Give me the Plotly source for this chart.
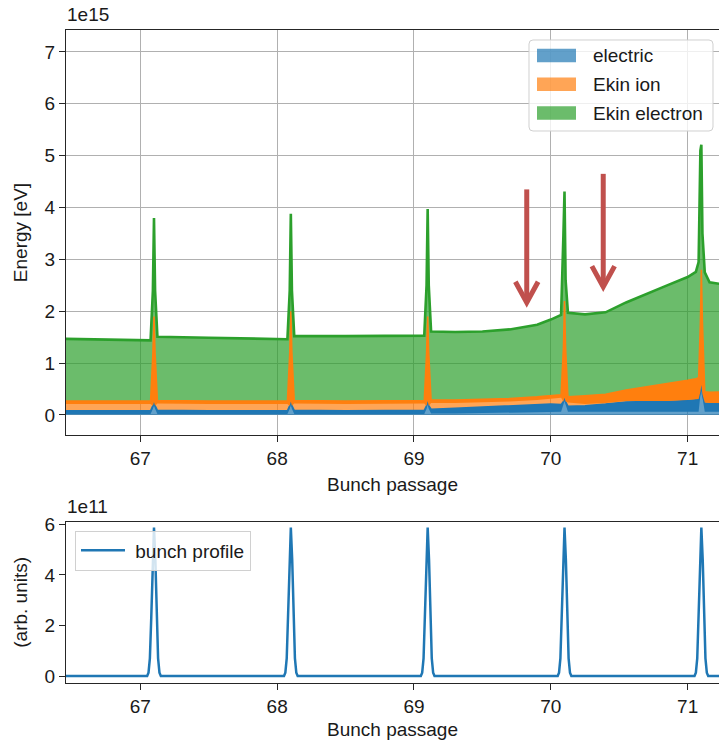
import plotly.graph_objects as go

# ---------------- data (top panel, energies in units of 1e15 eV) ----------------
passage = [66.40, 67.00, 67.075, 67.092, 67.10, 67.108, 67.125, 67.50, 68.00,
           68.075, 68.092, 68.10, 68.108, 68.125, 68.50, 69.00,
           69.075, 69.092, 69.10, 69.108, 69.125, 69.30, 69.50, 69.70, 69.90, 70.00,
           70.075, 70.092, 70.10, 70.108, 70.125, 70.25, 70.40, 70.55, 70.70, 70.85,
           71.00, 71.06, 71.08, 71.093, 71.10, 71.108, 71.125, 71.16, 71.30]

electric_top = [0.08, 0.08, 0.08, 0.18, 0.25, 0.18, 0.09, 0.08, 0.08,
                0.08, 0.18, 0.26, 0.18, 0.09, 0.08, 0.08,
                0.09, 0.18, 0.27, 0.18, 0.11, 0.13, 0.15, 0.17, 0.20, 0.21,
                0.20, 0.26, 0.33, 0.26, 0.17, 0.18, 0.21, 0.25, 0.26, 0.26,
                0.28, 0.29, 0.30, 0.45, 0.58, 0.40, 0.23, 0.22, 0.22]

electric_band_low = [0.02, 0.02, 0.02, 0.12, 0.19, 0.12, 0.02, 0.02, 0.02,
                     0.02, 0.12, 0.20, 0.12, 0.02, 0.02, 0.02,
                     0.02, 0.12, 0.21, 0.12, 0.03, 0.03, 0.04, 0.05, 0.06, 0.06,
                     0.06, 0.20, 0.27, 0.20, 0.06, 0.06, 0.06, 0.06, 0.06, 0.06,
                     0.06, 0.06, 0.06, 0.39, 0.52, 0.34, 0.06, 0.06, 0.06]

ion_top = [0.27, 0.27, 0.27, 1.20, 1.90, 1.20, 0.28, 0.27, 0.27,
           0.27, 1.20, 2.00, 1.20, 0.28, 0.27, 0.27,
           0.28, 1.20, 1.90, 1.20, 0.29, 0.29, 0.30, 0.32, 0.35, 0.37,
           0.39, 1.30, 2.20, 1.30, 0.35, 0.37, 0.40, 0.48, 0.54, 0.60,
           0.67, 0.70, 0.72, 1.80, 2.80, 1.80, 0.45, 0.44, 0.45]

ion_band_low = [0.21, 0.21, 0.21, 0.18, 0.25, 0.18, 0.22, 0.21, 0.21,
                0.21, 0.18, 0.26, 0.18, 0.22, 0.21, 0.21,
                0.22, 0.18, 0.27, 0.18, 0.23, 0.23, 0.24, 0.26, 0.29, 0.31,
                0.33, 0.26, 0.33, 0.26, 0.24, 0.21, 0.23, 0.27, 0.27, 0.27,
                0.29, 0.30, 0.31, 0.45, 0.58, 0.40, 0.24, 0.23, 0.23]

total_top = [1.47, 1.45, 1.44, 2.40, 3.80, 2.40, 1.51, 1.49, 1.46,
             1.46, 2.40, 3.88, 2.40, 1.52, 1.52, 1.52,
             1.53, 2.50, 3.97, 2.50, 1.61, 1.60, 1.61, 1.65, 1.74, 1.84,
             1.93, 3.47, 4.31, 2.60, 1.97, 1.94, 1.98, 2.17, 2.34, 2.50,
             2.66, 2.76, 2.95, 5.10, 5.21, 3.50, 2.75, 2.56, 2.50]

# ---------------- data (bottom panel, bunch profile in units of 1e11) ----------------
bunch_centers = [67.1, 68.1, 69.1, 70.1, 71.1]
profile_offsets = [-0.05, -0.04, -0.03, -0.02, -0.01, 0.0, 0.01, 0.02, 0.03, 0.04, 0.05]
profile_shape = [0.0, 0.13, 0.7, 2.3, 4.6, 5.87, 4.6, 2.3, 0.7, 0.13, 0.0]
profile_edges = [66.40, 71.30]

x_ticks = [67, 68, 69, 70, 71]
energy_ticks = [0, 1, 2, 3, 4, 5, 6, 7]
profile_ticks = [0, 2, 4, 6]
energy_scale = 1e15
profile_scale = 1e11

legend_labels = ["electric", "Ekin ion", "Ekin electron"]

arrow_x = [69.824, 70.383]
arrow_top = [4.35, 4.65]
arrow_tip = [2.17, 2.47]

# ---------------- style ----------------
W, H = 719, 741
BLUE, ORANGE, GREEN = "#1f77b4", "#ff7f0e", "#2ca02c"
FONT = "Liberation Sans, Arial, sans-serif"
FS = 19
TXT = "#1a1a1a"
SPINE = "#262626"


def rgba(h, a):
    h = h.lstrip("#")
    return "rgba(%d,%d,%d,%g)" % (int(h[0:2], 16), int(h[2:4], 16), int(h[4:6], 16), a)


def px(xp):
    return xp / W


def py(yp):
    return 1 - yp / H


def E(arr):
    return [v * energy_scale for v in arr]


def rounded_box(x0, y0, x1, y1, r):
    # pixel coords (y downwards) -> paper path with rounded corners
    pts = []
    pts.append("M %f,%f" % (px(x0 + r), py(y0)))
    pts.append("L %f,%f" % (px(x1 - r), py(y0)))
    pts.append("Q %f,%f %f,%f" % (px(x1), py(y0), px(x1), py(y0 + r)))
    pts.append("L %f,%f" % (px(x1), py(y1 - r)))
    pts.append("Q %f,%f %f,%f" % (px(x1), py(y1), px(x1 - r), py(y1)))
    pts.append("L %f,%f" % (px(x0 + r), py(y1)))
    pts.append("Q %f,%f %f,%f" % (px(x0), py(y1), px(x0), py(y1 - r)))
    pts.append("L %f,%f" % (px(x0), py(y0 + r)))
    pts.append("Q %f,%f %f,%f Z" % (px(x0), py(y0), px(x0 + r), py(y0)))
    return " ".join(pts)


fig = go.Figure()
common = dict(xaxis="x", yaxis="y", hoverinfo="skip", showlegend=False)
# electric: light fill to zero, then dense (oscillating) band drawn solid
fig.add_trace(go.Scatter(x=passage, y=E(electric_top), fill="tozeroy",
                         fillcolor=rgba(BLUE, 0.7), mode="lines", line=dict(width=0, color=BLUE), **common))
fig.add_trace(go.Scatter(x=passage, y=E(electric_band_low), mode="lines",
                         line=dict(width=0, color=BLUE), **common))
fig.add_trace(go.Scatter(x=passage, y=E(electric_top), fill="tonexty", fillcolor=BLUE,
                         mode="lines", line=dict(color=BLUE, width=1.5), name="electric", **common))
# ion
fig.add_trace(go.Scatter(x=passage, y=E(ion_top), fill="tonexty", fillcolor=rgba(ORANGE, 0.7),
                         mode="lines", line=dict(width=0, color=ORANGE), **common))
fig.add_trace(go.Scatter(x=passage, y=E(ion_band_low), mode="lines",
                         line=dict(width=0, color=ORANGE), **common))
fig.add_trace(go.Scatter(x=passage, y=E(ion_top), fill="tonexty", fillcolor=ORANGE,
                         mode="lines", line=dict(color=ORANGE, width=1.5), name="Ekin ion", **common))
# electron (total)
fig.add_trace(go.Scatter(x=passage, y=E(total_top), fill="tonexty",
                         fillcolor=rgba(GREEN, 0.7), mode="lines",
                         line=dict(color=GREEN, width=2.6), name="Ekin electron", **common))

prof_x = [profile_edges[0]] + [c + o for c in bunch_centers for o in profile_offsets] + [profile_edges[1]]
prof_y = [0.0] + [v for c in bunch_centers for v in profile_shape] + [0.0]
fig.add_trace(go.Scatter(x=prof_x, y=[v * profile_scale for v in prof_y], xaxis="x2", yaxis="y2",
                         mode="lines", line=dict(color=BLUE, width=2.5),
                         name="\u00a0bunch profile", showlegend=True, hoverinfo="skip"))

axis_common = dict(showline=True, linecolor=SPINE, linewidth=1.3, ticks="outside", ticklen=6,
                   tickwidth=1.3, tickcolor=SPINE, tickfont=dict(size=FS, color=TXT, family=FONT),
                   zeroline=False)
xr = [66.457, 71.229]
fig.update_layout(
    width=W, height=H, template="none", margin=dict(l=0, r=0, t=0, b=0),
    paper_bgcolor="white", plot_bgcolor="white",
    font=dict(family=FONT, size=FS, color=TXT),
    xaxis=dict(domain=[px(66), 1], range=xr, tickvals=x_ticks, ticktext=[str(t) for t in x_ticks],
               showgrid=True, gridcolor="#b0b0b0", gridwidth=1.3, mirror=True, anchor="y",
               title=dict(text="Bunch passage", font=dict(size=FS), standoff=9), **axis_common),
    yaxis=dict(domain=[py(435), py(30)], range=[-0.386 * energy_scale, 7.424 * energy_scale],
               tickvals=[t * energy_scale for t in energy_ticks], ticktext=[str(t) for t in energy_ticks],
               showgrid=True, gridcolor="#b0b0b0", gridwidth=1.3, anchor="x",
               title=dict(text="Energy [eV]", font=dict(size=FS), standoff=11), **axis_common),
    xaxis2=dict(domain=[px(66), 1], range=xr, tickvals=x_ticks, ticktext=[str(t) for t in x_ticks],
                showgrid=False, mirror=True, anchor="y2",
                title=dict(text="Bunch passage", font=dict(size=FS), standoff=6), **axis_common),
    yaxis2=dict(domain=[py(683), py(521.7)], range=[-0.277 * profile_scale, 6.104 * profile_scale],
                tickvals=[t * profile_scale for t in profile_ticks], ticktext=[str(t) for t in profile_ticks],
                showgrid=False, anchor="x2",
                title=dict(text="(arb. units)", font=dict(size=FS), standoff=11), **axis_common),
    legend=dict(x=px(75), y=py(530.5), xanchor="left", yanchor="top",
                bgcolor="rgba(255,255,255,0.8)", bordercolor="#d0d0d0", borderwidth=1,
                font=dict(size=FS, family=FONT, color=TXT), itemwidth=44),
)

# offset texts
fig.add_annotation(text="1e15", xref="paper", yref="paper", x=px(65), y=py(27), xanchor="left",
                   yanchor="bottom", showarrow=False, font=dict(size=FS, color=TXT))
fig.add_annotation(text="1e11", xref="paper", yref="paper", x=px(65), y=py(518.5), xanchor="left",
                   yanchor="bottom", showarrow=False, font=dict(size=FS, color=TXT))

# arrows (annotations pointing at features)
ARROW = "#c0504d"
for ax_, top_, tip_ in zip(arrow_x, arrow_top, arrow_tip):
    fig.add_shape(type="path", xref="x", yref="y", layer="above",
                  path="M %f,%f L %f,%f" % (ax_, top_ * energy_scale, ax_, tip_ * energy_scale),
                  line=dict(color=ARROW, width=5))
    fig.add_shape(type="path", xref="x", yref="y", layer="above",
                  path="M %f,%f L %f,%f L %f,%f" % (ax_ - 0.083, (tip_ + 0.40) * energy_scale,
                                                    ax_, tip_ * energy_scale,
                                                    ax_ + 0.083, (tip_ + 0.40) * energy_scale),
                  line=dict(color=ARROW, width=5))

# legend for the stacked areas (top panel)
fig.add_shape(type="path", xref="paper", yref="paper", path=rounded_box(529, 40, 713, 131, 4),
              line=dict(color="#d0d0d0", width=1), fillcolor="rgba(255,255,255,0.8)", layer="above")
for lab, col, yc in zip(legend_labels, [BLUE, ORANGE, GREEN], [55.5, 84.3, 113.0]):
    fig.add_shape(type="rect", xref="paper", yref="paper", x0=px(537), x1=px(576),
                  y0=py(yc + 6.8), y1=py(yc - 6.8), line=dict(width=0), fillcolor=rgba(col, 0.7),
                  layer="above")
    fig.add_annotation(text=lab, xref="paper", yref="paper", x=px(591), y=py(yc), xanchor="left",
                       yanchor="middle", showarrow=False, font=dict(size=FS, color=TXT))

fig.write_html("out.html")
